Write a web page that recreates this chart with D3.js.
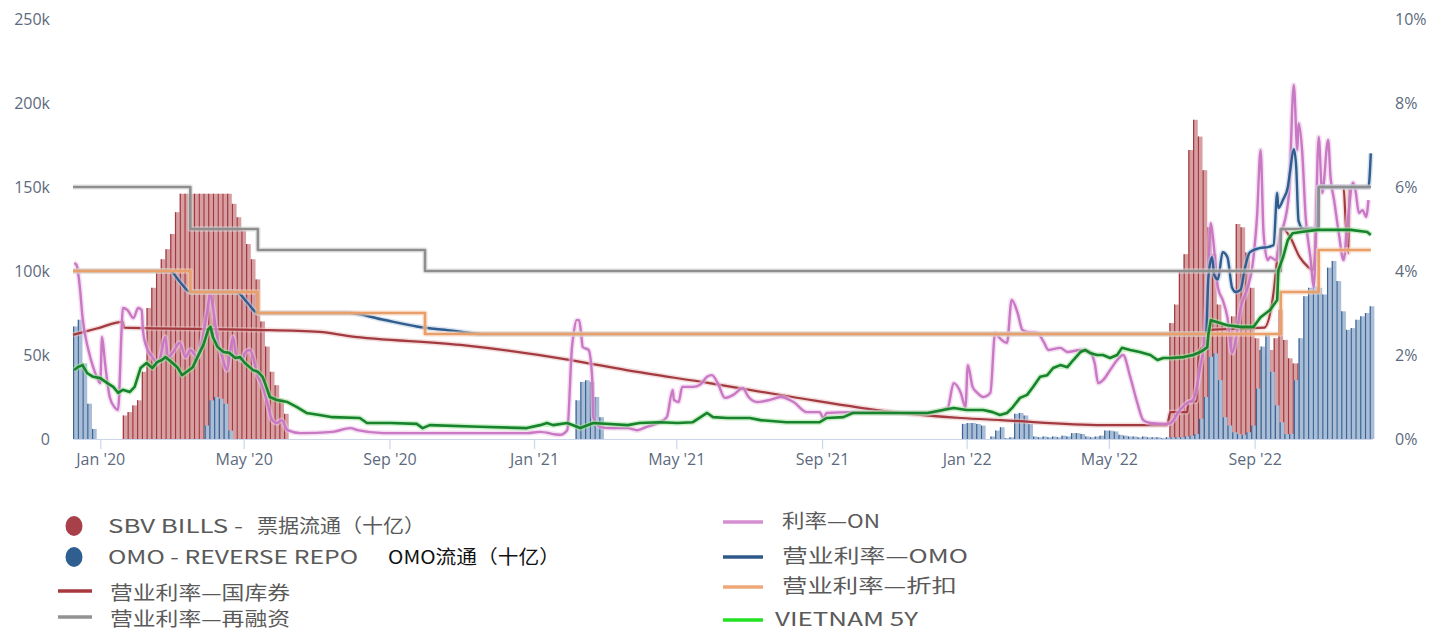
<!DOCTYPE html>
<html><head><meta charset="utf-8">
<script src="https://cdn.jsdelivr.net/npm/d3@7"></script>
<style>body{margin:0;background:#fff;}svg{display:block;}</style>
</head><body>
<svg id="chart" width="1431" height="632"></svg>
<script>
// ---------- DATA (day offsets from 2019-12-09) ----------
const baseDate = "2019-12-09";
const endDay = 1096;
const barStepDays = 4;

const leftTicks = [0, 50, 100, 150, 200, 250];           // thousands
const rightTicks = [0, 2, 4, 6, 8, 10];                   // %
const xTickDates = ["2020-01-01","2020-05-01","2020-09-01","2021-01-01","2021-05-01","2021-09-01","2022-01-01","2022-05-01","2022-09-01"];
const xTickLabels = ["Jan '20","May '20","Sep '20","Jan '21","May '21","Sep '21","Jan '22","May '22","Sep '22"];

// SBV bills outstanding (k), bars every 4 days from segment start
const sbvBillsStarts = [42, 925];
const sbvBills2020 = [14,16,20,23,40,78,90,100,107,113,122,135,146,146,146,146,146,146,146,146,146,146,146,140,132,124,116,107,95,70,55,40,32,24,15];
const sbvBills2022 = [69,80,100,110,172,190,180,160,126,110,80,68,65,73,128,126,111,90,60,53,50,53,60,77,59,48,45,45];

// OMO reverse repo outstanding (k)
const omoStarts = [0, 111, 424, 750];
const omo2019 = [67,71,45,21,6];
const omo2020 = [8,23,25,24,21,5];
const omo2021 = [23,34,35,34,25,13];
const omo2022 = [9,9.5,9.5,9,8,0,1.5,5,7,0.5,1,15,15.5,14,9,1.5,1,1.5,1,1.5,1,2,1.5,3.5,3.5,3,1.5,1,1.5,2,5,5,4.5,2.5,2,1.5,1.5,1,1.5,1,1,1,0.5,1,1,1,1,1.5,2,3,12,25,49,51,35,13,8,4,3,2.5,4,8,30,55,62,40,20,10,3,3,35,60,85,90,91,90,86,102,106,94,76,65,66,71,73,75,79];

// Policy rates (%), step changes: [day, rate]
const refiRate = [[0,6],[99,5],[156,4.5],[297,4],[1019,5],[1051,6],[1095,6]];
const discountRate = [[0,4],[99,3.5],[156,3],[297,2.5],[1019,3.5],[1051,4.5],[1095,4.5]];

// OMO rate (%)
const omoRate = [[0,4],[82,4],[90,3.75],[99,3.5],[138,3.5],[147,3.25],[156,3],[233,3],[260,2.85],[290,2.68],[320,2.58],[345,2.5],[956,2.5],[958,3.86],[961,4.33],[963,3.9],[966,3.8],[970,4.45],[974,4.33],[978,3.6],[981,3.5],[985,3.55],[989,4.1],[993,4.45],[1002,4.55],[1008,4.57],[1013,4.62],[1016,5.86],[1017,5.5],[1021,5.7],[1025,6.0],[1027,6.4],[1030,6.9],[1032,6.5],[1034,5.2],[1038,5.0],[1050,5.0],[1051,6.0],[1093,6.0],[1095,6.8]];

// T-bill rate (%)
const tbillRate = [[0,2.48],[20,2.63],[42,2.79],[43,2.65],[150,2.6],[208,2.55],[233,2.45],[327,2.24],[420,1.88],[467,1.64],[537,1.33],[607,1.0],[692,0.64],[749,0.5],[783,0.45],[869,0.33],[923,0.33],[926,0.64],[940,0.64],[941,0.88],[948,0.9],[950,2.05],[953,2.19],[957,2.36],[960,2.6],[1005,2.65],[1013,3.5],[1015,4.02],[1017,4.57],[1021,5.0],[1027,4.8],[1035,4.33],[1042,4.1],[1046,4.02],[1048,4.5],[1050,5.93],[1052,6.0],[1072,6.0],[1074,5.05],[1076,4.43],[1077,6.0],[1095,6.0]];

// Overnight interbank rate (%)
const onRate = [[1,4.19],[3,4.14],[6,3.55],[8,2.9],[13,2.12],[17,1.71],[20,1.48],[23,1.33],[24.5,2.43],[27,1.81],[31,1.0],[35,0.76],[38,0.69],[41,2.6],[42,3.12],[46,3.07],[51,2.88],[55,3.12],[58,3.07],[59,2.6],[62,2.19],[67,1.95],[71,1.81],[73,1.88],[78,2.43],[80,1.95],[84,2.05],[90,2.29],[95,1.95],[99,2.12],[105,1.95],[109,2.36],[113,3.0],[116,3.48],[118,3.14],[122,2.36],[126,1.95],[130,1.64],[132,1.95],[135,2.43],[138,1.95],[143,1.88],[145,2.05],[149,2.12],[152,1.95],[155,1.57],[160,1.24],[164,0.86],[168,0.45],[172,0.38],[176,0.45],[181,0.21],[192,0.14],[219,0.17],[234,0.26],[240,0.21],[262,0.14],[327,0.14],[383,0.14],[394,0.17],[411,0.1],[417,0.21],[421,2.19],[422,2.43],[425,2.83],[427,2.83],[429,2.43],[430,2.19],[435,2.12],[438,1.48],[439,0.52],[445,0.29],[453,0.26],[468,0.26],[476,0.21],[484,0.29],[495,0.4],[501,0.52],[506,1.17],[507,0.93],[511,0.88],[514,1.24],[523,1.24],[529,1.29],[535,1.48],[539,1.52],[544,1.33],[550,0.98],[557,1.05],[565,1.21],[570,1.0],[577,0.88],[588,0.93],[597,1.0],[608,0.88],[619,0.64],[630,0.64],[633,0.5],[636,0.62],[658,0.64],[692,0.62],[721,0.62],[738,0.74],[743,1.33],[749,1.1],[753,0.76],[755,1.76],[759,1.24],[763,1.1],[768,1.0],[774,1.1],[778,2.52],[782,2.4],[788,2.29],[792,3.31],[797,3.0],[801,2.6],[805,2.55],[814,2.52],[819,2.31],[823,2.12],[833,2.17],[839,2.07],[850,2.12],[858,2.07],[862,1.81],[865,1.33],[869,1.4],[875,1.64],[881,1.88],[886,2.0],[892,1.48],[898,0.86],[903,0.45],[909,0.38],[923,0.36],[926,0.38],[934,0.69],[940,0.86],[945,0.93],[951,1.7],[955,2.5],[958,4.1],[960,5.14],[962,4.74],[966,3.6],[970,3.31],[974,2.9],[978,2.05],[981,2.36],[985,3.1],[991,3.6],[995,4.1],[999,5.3],[1002,6.88],[1004.5,4.9],[1008,4.26],[1010,4.33],[1015,4.26],[1019,4.9],[1021,5.05],[1026,5.86],[1030,8.43],[1033,6.88],[1034,7.52],[1037,6.88],[1040,5.29],[1044,4.33],[1047,3.62],[1051,7.19],[1054,5.86],[1059,7.12],[1061,6.24],[1064,5.69],[1068,4.9],[1072,4.26],[1075,5.05],[1080,6.1],[1082,5.93],[1085,5.38],[1088,5.45],[1091,5.29],[1093,5.69]];

// Vietnam 5Y government bond yield (%)
const vn5y = [[1,1.64],[4,1.71],[8,1.76],[12,1.57],[17,1.48],[23,1.45],[29,1.33],[34,1.24],[38,1.1],[42,1.17],[48,1.12],[52,1.24],[57,1.69],[62,1.81],[67,1.69],[71,1.83],[75,1.88],[78,1.95],[84,1.81],[88,1.71],[92,1.52],[96,1.6],[101,1.71],[105,1.95],[110,2.24],[114,2.6],[116,2.67],[118,2.43],[122,2.19],[127,2.07],[132,2.05],[137,1.93],[141,1.95],[145,1.81],[152,1.64],[156,1.6],[160,1.48],[164,1.17],[166,1.0],[172,0.93],[181,0.88],[189,0.76],[197,0.62],[208,0.57],[219,0.52],[242,0.5],[248,0.38],[268,0.38],[290,0.36],[295,0.26],[301,0.33],[343,0.29],[383,0.26],[394,0.33],[400,0.38],[405,0.33],[417,0.38],[428,0.26],[439,0.38],[468,0.33],[478,0.38],[495,0.4],[510,0.38],[523,0.4],[535,0.62],[540,0.52],[552,0.5],[571,0.5],[580,0.45],[602,0.4],[630,0.4],[636,0.5],[650,0.52],[658,0.62],[692,0.62],[721,0.62],[734,0.69],[743,0.74],[754,0.69],[768,0.69],[776,0.64],[782,0.57],[788,0.62],[793,0.76],[799,0.98],[805,1.05],[810,1.24],[816,1.48],[822,1.52],[827,1.69],[833,1.76],[839,1.71],[844,1.88],[850,2.07],[854,2.12],[858,2.05],[864,2.0],[869,2.0],[875,1.93],[881,2.0],[885,2.17],[892,2.12],[900,2.07],[909,2.0],[915,1.88],[920,1.93],[926,1.93],[937,1.95],[945,2.0],[951,2.07],[954,2.12],[957,2.19],[958,2.5],[960,2.83],[974,2.71],[985,2.67],[996,2.67],[1002,2.9],[1010,3.07],[1016,3.31],[1017,4.02],[1021,4.33],[1025,4.74],[1029,4.9],[1036,4.93],[1050,4.98],[1064,4.98],[1078,4.98],[1092,4.93],[1095,4.86]];

const legendLeft = [
  {type:"dot", color:"#a8404a", parts:[["SBV BILLS -  ", "#5a5a5a"],["票据流通（十亿）","#5a5a5a"]]},
  {type:"dot", color:"#2f5f91", parts:[["OMO - REVERSE REPO","#5a5a5a"],["OMO流通（十亿）","#111"]]},
  {type:"line", color:"#a8383f", parts:[["营业利率—国库券","#5a5a5a"]]},
  {type:"line", color:"#929292", parts:[["营业利率—再融资","#5a5a5a"]]}
];
const legendRight = [
  {color:"#d58fd0", label:"利率—ON"},
  {color:"#2e5a8a", label:"营业利率—OMO"},
  {color:"#eea878", label:"营业利率—折扣"},
  {color:"#22e022", label:"VIETNAM 5Y"}
];

// ---------- DRAW ----------
const svg = d3.select("#chart");
const parse = d3.timeParse("%Y-%m-%d");
const base = parse(baseDate);
const dayToDate = d => new Date(base.getTime() + d * 864e5);

const x = d3.scaleTime().domain([base, dayToDate(endDay)]).range([73, 1372]);
const yL = d3.scaleLinear().domain([0, 250]).range([439, 19]);
const yR = d3.scaleLinear().domain([0, 10]).range([439, 19]);

const axisFont = "'Open Sans', sans-serif";
const axisColor = "#5d6a7e";

// left axis
const gL = svg.append("g").attr("transform", "translate(53,0)")
  .call(d3.axisLeft(yL).tickValues(leftTicks).tickSize(0).tickPadding(3).tickFormat(d => d === 0 ? "0" : d + "k"));
gL.select(".domain").remove();
gL.selectAll("text").attr("font-family", axisFont).attr("font-size", 16).attr("fill", axisColor);

// right axis
const gR = svg.append("g").attr("transform", "translate(1392,0)")
  .call(d3.axisRight(yR).tickValues(rightTicks).tickSize(0).tickPadding(3).tickFormat(d => d + "%"));
gR.select(".domain").remove();
gR.selectAll("text").attr("font-family", axisFont).attr("font-size", 16).attr("fill", axisColor);

// bars
function drawBars(starts, segs, fill, edge) {
  const g = svg.append("g");
  segs.forEach((vals, si) => {
    vals.forEach((v, i) => {
      const d0 = starts[si] + i * barStepDays;
      const x0 = x(dayToDate(d0)), x1 = x(dayToDate(d0 + barStepDays));
      if (v <= 0) return;
      g.append("rect").attr("x", x0).attr("y", yL(v)).attr("width", x1 - x0).attr("height", yL(0) - yL(v))
        .attr("fill", fill);
      g.append("line").attr("x1", x0 + 0.6).attr("x2", x0 + 0.6).attr("y1", yL(v)).attr("y2", yL(0))
        .attr("stroke", edge).attr("stroke-width", 1.2);
    });
  });
}
drawBars(sbvBillsStarts, [sbvBills2020, sbvBills2022], "#d6a0a3", "#a3363e");
drawBars(omoStarts, [omo2019, omo2020, omo2021, omo2022], "#a9bdd6", "#3a6595");

// x axis
const gX = svg.append("g").attr("transform", "translate(0,439)")
  .call(d3.axisBottom(x).tickValues(xTickDates.map(parse)).tickSize(10).tickSizeOuter(0).tickPadding(5)
    .tickFormat((d, i) => xTickLabels[i]));
gX.select(".domain").attr("stroke", "#ccd6eb").attr("stroke-width", 1.2);
gX.selectAll(".tick line").attr("stroke", "#ccd6eb").attr("stroke-width", 1.2);
gX.selectAll("text").attr("font-family", axisFont).attr("font-size", 16).attr("fill", axisColor);

// lines
function drawLine(data, color, width, curve, halo) {
  const gen = d3.line().x(d => x(dayToDate(d[0]))).y(d => yR(d[1])).curve(curve || d3.curveLinear);
  if (halo) {
    svg.append("path").attr("d", gen(data)).attr("fill", "none").attr("stroke", halo)
      .attr("stroke-width", width + 3).attr("stroke-linejoin", "round").attr("opacity", 0.55);
  }
  svg.append("path").attr("d", gen(data)).attr("fill", "none").attr("stroke", color)
    .attr("stroke-width", width).attr("stroke-linejoin", "round");
}
drawLine(tbillRate, "#a33a40", 2.2, d3.curveMonotoneX, "#e8c0c0");
drawLine(onRate, "#c978c4", 2.4, d3.curveMonotoneX, "#ecc6ea");
drawLine(omoRate, "#2f5d8e", 2.4, d3.curveMonotoneX, "#bccbe0");
drawLine(refiRate, "#8e8e8e", 2.6, d3.curveStepAfter, "#d8d8d8");
drawLine(discountRate, "#e99f6a", 2.6, d3.curveStepAfter, "#f6d5bd");
drawLine(vn5y, "#17832c", 2.6, d3.curveLinear, "#a6e6a2");

// legend
const legFont = "'Noto Sans CJK SC', 'Noto Sans', sans-serif";
const leftRowsY = [526, 557, 593, 619];
const leftWidths = [[135, 168], [250, 172], [180], [180]];
const leftStarts = [[108, 257], [108, 388], [110], [110]];
legendLeft.forEach((it, i) => {
  const cy = leftRowsY[i];
  if (it.type === "dot") {
    svg.append("ellipse").attr("cx", 74).attr("cy", cy).attr("rx", 8.5).attr("ry", 10).attr("fill", it.color);
  } else {
    svg.append("line").attr("x1", 58).attr("x2", 92).attr("y1", cy - 2).attr("y2", cy - 2)
      .attr("stroke", it.color).attr("stroke-width", 3.5);
  }
  it.parts.forEach((p, j) => {
    svg.append("text").attr("x", leftStarts[i][j]).attr("y", cy + 7)
      .attr("font-family", legFont).attr("font-size", 19).attr("fill", p[1])
      .attr("textLength", leftWidths[i][j]).attr("lengthAdjust", "spacingAndGlyphs")
      .text(p[0]);
  });
});
const rightRowsY = [521, 556, 586, 619];
const rightWidths = [98, 186, 175, 143];
const rightStarts = [782, 782, 782, 775];
legendRight.forEach((it, i) => {
  const cy = rightRowsY[i];
  svg.append("line").attr("x1", 723).attr("x2", 763).attr("y1", cy + 1).attr("y2", cy + 1)
    .attr("stroke", it.color).attr("stroke-width", 3.5);
  svg.append("text").attr("x", rightStarts[i]).attr("y", cy + 7)
    .attr("font-family", legFont).attr("font-size", 19).attr("fill", "#5a5a5a")
    .attr("textLength", rightWidths[i]).attr("lengthAdjust", "spacingAndGlyphs")
    .text(it.label);
});
</script>
</body></html>
